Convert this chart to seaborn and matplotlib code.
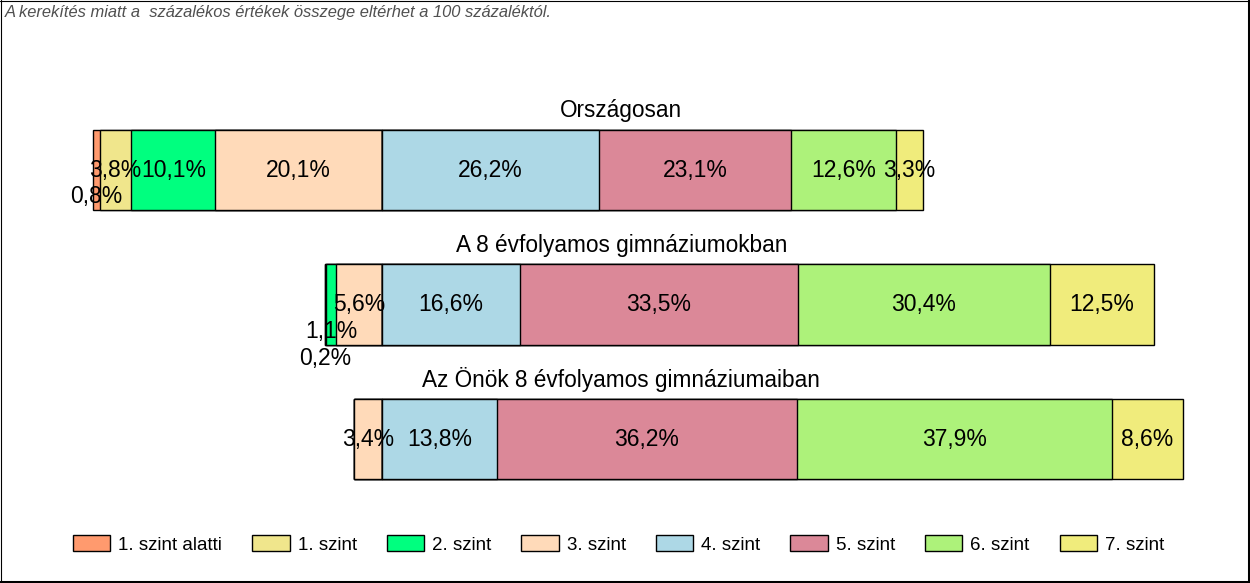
import numpy as np
import pandas as pd
import matplotlib
matplotlib.use("Agg")
import matplotlib.pyplot as plt
from matplotlib.patches import Patch
from matplotlib.lines import Line2D
import seaborn as sns

# Data
levels = ["1. szint alatti", "1. szint", "2. szint", "3. szint",
          "4. szint", "5. szint", "6. szint", "7. szint"]
groups = ["Országosan", "A 8 évfolyamos gimnáziumokban",
          "Az Önök 8 évfolyamos gimnáziumaiban"]
orszagosan = [0.8, 3.8, 10.1, 20.1, 26.2, 23.1, 12.6, 3.3]
gimn8 = [0.0, 0.2, 1.1, 5.6, 16.6, 33.5, 30.4, 12.5]
onok = [0.0, 0.0, 0.0, 3.4, 13.8, 36.2, 37.9, 8.6]
level_colors = ["#FF9A6E", "#F0E68C", "#00FF7F", "#FFDAB9",
                "#ADD8E6", "#DB8898", "#ADF27A", "#F0EC7C"]
note = "A kerekítés miatt a  százalékos értékek összege eltérhet a 100 százaléktól."
n_left = 4  # levels below "4. szint" go to the left of zero

sns.set_theme(style="white")
plt.rcParams['font.family'] = ['Liberation Sans', 'DejaVu Sans']

values = np.array([orszagosan, gimn8, onok])

# segment start / end per group (diverging around the 3./4. szint boundary)
ends = np.zeros_like(values)
starts = np.zeros_like(values)
right = np.cumsum(values[:, n_left:], axis=1)
ends[:, n_left:] = right
starts[:, n_left:] = right - values[:, n_left:]
left = -np.cumsum(values[:, :n_left][:, ::-1], axis=1)[:, ::-1]
ends[:, :n_left] = left
starts[:, :n_left] = left + values[:, :n_left]

fig = plt.figure(figsize=(12.5, 5.83), dpi=100)
ax = fig.add_axes([0, 0, 1, 1])

# overlay bars: widest first so that narrower ones sit on top
draw_order = list(range(n_left)) + list(range(len(levels) - 1, n_left - 1, -1))
for k in draw_order:
    df = pd.DataFrame({"group": groups, "end": ends[:, k]})
    sns.barplot(data=df, x="end", y="group", order=groups, orient="h",
                color=level_colors[k], saturation=1, width=0.6,
                edgecolor="black", linewidth=1, errorbar=None, ax=ax)

# value labels, small neighbouring segments pushed downwards
thr = 5.5
for i in range(len(groups)):
    centers = (starts[i] + ends[i]) / 2
    lvl = np.zeros(len(levels), dtype=int)
    prev = None
    for k in range(len(levels) - 1, -1, -1):
        if values[i, k] <= 0:
            continue
        if prev is not None and abs(centers[prev] - centers[k]) < thr:
            lvl[k] = lvl[prev] + 1
        prev = k
    for k in range(len(levels)):
        if values[i, k] <= 0:
            continue
        label = f"{values[i, k]:.1f}".replace(".", ",") + "%"
        ax.text(centers[k], i + lvl[k] * 0.2, label, ha="center", va="center",
                fontsize=16.5, color="black")
    ax.text(0.497, i - 0.44, groups[i], transform=ax.get_yaxis_transform(),
            ha="center", va="center", fontsize=16.3, color="black")

px = 8.3  # pixels per percent
ax.set_xlim(-382 / px, (1250 - 382) / px)
ax.set_ylim(413 / 134.5, -170 / 134.5)
ax.axis("off")

handles = [Patch(facecolor=c, edgecolor="black", linewidth=1) for c in level_colors]
fig.legend(handles, levels, loc="center", bbox_to_anchor=(0.4948, 0.066), ncol=8,
           frameon=False, fontsize=13.5, handlelength=2.0, handleheight=0.9,
           handletextpad=0.42, columnspacing=1.6, borderpad=0, borderaxespad=0,
           labelcolor="black")

fig.text(0.004, 0.978, note, ha="left", va="center", fontsize=11.9,
         style="italic", color="#505050")

# frame with a heavier right/bottom edge
W, H = 1250, 583
fig.add_artist(Line2D([0.5 / W, 0.5 / W], [0, 1], color="black", lw=0.8))
fig.add_artist(Line2D([0, 1], [1 - 0.5 / H, 1 - 0.5 / H], color="black", lw=0.8))
fig.add_artist(Line2D([1 - 1.5 / W, 1 - 1.5 / W], [0, 1], color="black", lw=2.2))
fig.add_artist(Line2D([0, 1], [1.5 / H, 1.5 / H], color="black", lw=2.2))

fig.savefig("out.png", dpi=100)
